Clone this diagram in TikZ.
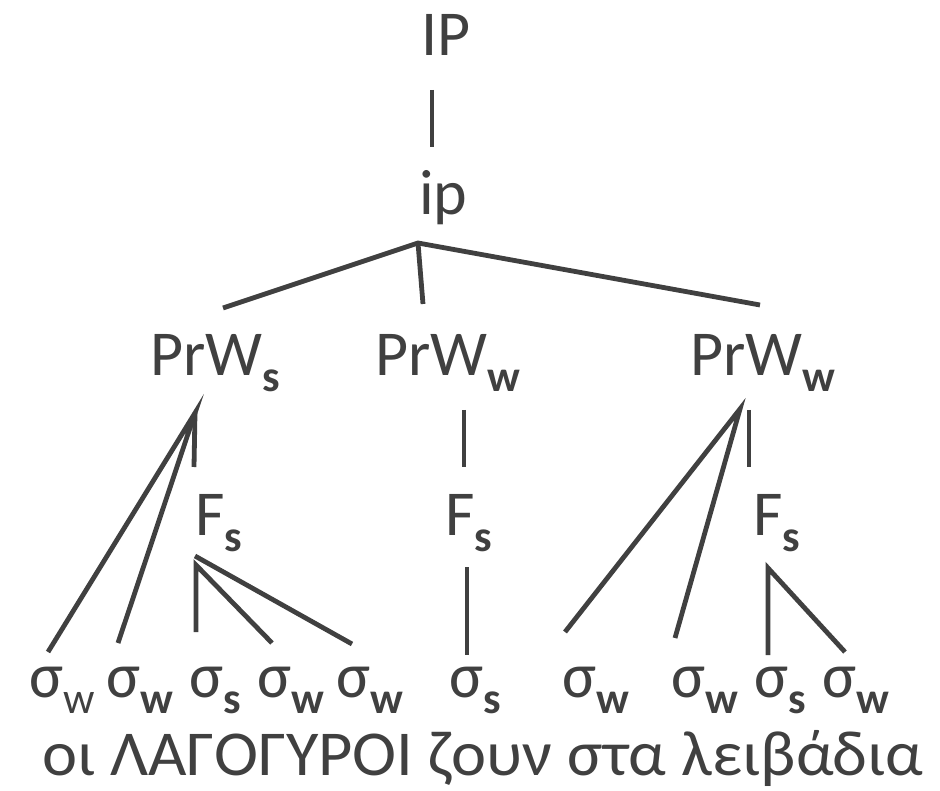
\documentclass[tikz,border=0pt]{standalone}
\usepackage{fontspec}
\setmainfont{Carlito}
\definecolor{ink}{HTML}{404040}
\newcommand{\mysub}[1]{\raisebox{-16pt}{\fontsize{44}{46}\selectfont\bfseries #1}}
\newcommand{\mysubr}[1]{\raisebox{-16pt}{\fontsize{44}{46}\selectfont #1}}
\begin{document}
\begin{tikzpicture}[x=1pt,y=-1pt,
  lab/.style={anchor=base west,inner sep=0pt,outer sep=0pt,text=ink,font=\fontsize{64}{70}\selectfont},
  edge/.style={draw=ink,line width=4.8pt}]
\useasboundingbox (0,0) rectangle (940,791);
% labels
\node[lab] (IP) at (421,56) {IP};
\node[lab] (ip) at (419,215) {ip};
\node[lab] (pws) at (150,376) {PrW\mysub{s}};
\node[lab] (pwm) at (375,376) {PrW\mysub{w}};
\node[lab] (pwr) at (690,376) {PrW\mysub{w}};
\node[lab] (fl) at (195,535) {F\mysub{s}};
\node[lab] (fm) at (445,535) {F\mysub{s}};
\node[lab] (fr) at (753,535) {F\mysub{s}};
\node[lab] (s1) at (29,697) {σ\mysubr{w}};
\node[lab] (s2) at (106,697) {σ\mysub{w}};
\node[lab] (s3) at (189,697) {σ\mysub{s}};
\node[lab] (s4) at (257,697) {σ\mysub{w}};
\node[lab] (s5) at (336,697) {σ\mysub{w}};
\node[lab] (s6) at (449,697) {σ\mysub{s}};
\node[lab] (s7) at (562,697) {σ\mysub{w}};
\node[lab] (s8) at (671,697) {σ\mysub{w}};
\node[lab] (s9) at (754,697) {σ\mysub{s}};
\node[lab] (s10) at (822,697) {σ\mysub{w}};
\node[lab] (sent) at (42,775) {\scalebox{1.038}[1]{οι ΛΑΓΟΓΥΡΟΙ ζουν στα λειβάδια}};
% connector end points
\coordinate (IPb) at (432,90);
\coordinate (ipt) at (432,147);
\coordinate (ipa) at (418,243);
\coordinate (pwsT) at (223,308);
\coordinate (pwmT) at (423,304);
\coordinate (pwrT) at (760,305);
\coordinate (pwsA) at (195,413);
\coordinate (flT) at (194,467);
\coordinate (s1T) at (48,652);
\coordinate (s2T) at (118,643);
\coordinate (pwmA) at (464,410);
\coordinate (fmT) at (464,467);
\coordinate (fmA) at (467,567);
\coordinate (s6T) at (467,655);
\coordinate (flA) at (195,556);
\coordinate (flB) at (196,565);
\coordinate (s3T) at (196,632);
\coordinate (s4T) at (272,643);
\coordinate (s5T) at (352,644);
\coordinate (pwrA) at (740,409);
\coordinate (s7T) at (565,632);
\coordinate (s8T) at (675,638);
\coordinate (pwrB) at (749,410);
\coordinate (frT) at (749,467);
\coordinate (frA) at (768,568);
\coordinate (s9T) at (768,655);
\coordinate (s10T) at (845,652);
% connectors
\draw[edge] (IPb) -- (ipt);
\draw[edge] (pwsT) -- (ipa) -- (pwrT);
\draw[edge] (ipa) -- (pwmT);
\draw[edge] (s1T) -- (pwsA) -- (s2T);
\draw[edge] (pwsA) -- (flT);
\draw[edge] (pwmA) -- (fmT);
\draw[edge] (fmA) -- (s6T);
\draw[edge] (flA) -- (s5T);
\draw[edge] (s3T) -- (flB) -- (s4T);
\draw[edge] (s7T) -- (pwrA) -- (s8T);
\draw[edge] (pwrB) -- (frT);
\draw[edge] (s9T) -- (frA) -- (s10T);
\end{tikzpicture}
\end{document}
